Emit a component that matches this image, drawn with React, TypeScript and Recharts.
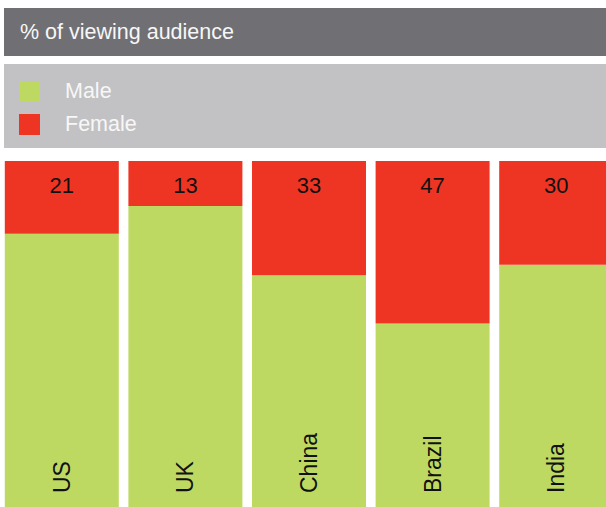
import React from "react";
import { BarChart, Bar, XAxis, YAxis, Legend, LabelList } from "recharts";

const countries = ["US", "UK", "China", "Brazil", "India"];
const femaleShare = [21, 13, 33, 47, 30];
const maleShare = [79, 87, 67, 53, 70];

const GREEN = "#bed962";
const RED = "#ee3524";
const FONT = "'Liberation Sans', Arial, sans-serif";

const data = countries.map((c, i) => ({
  country: c,
  male: maleShare[i],
  female: femaleShare[i],
}));

const LegendBox = () => (
  <div
    style={{
      width: 602,
      height: 84,
      background: "#c2c2c4",
      position: "relative",
      fontFamily: FONT,
      fontSize: 21.5,
      color: "#f7f7f7",
    }}
  >
    {[
      { name: "Male", color: GREEN, top: 15 },
      { name: "Female", color: RED, top: 48 },
    ].map((it) => (
      <div key={it.name} style={{ position: "absolute", left: 15, top: it.top, display: "flex", alignItems: "center" }}>
        <div style={{ width: 21, height: 21, background: it.color }} />
        <span style={{ marginLeft: 25 }}>{it.name}</span>
      </div>
    ))}
  </div>
);

const CountryLabel = (props: any) => {
  const { x, width, value } = props;
  const cx = x + width / 2 + 8;
  const y = 493;
  return (
    <text
      x={cx}
      y={y}
      transform={`rotate(-90 ${cx} ${y})`}
      textAnchor="start"
      fontSize={23}
      fontFamily={FONT}
      fill="#111"
    >
      {value}
    </text>
  );
};

export default function App() {
  return (
    <div style={{ position: "fixed", left: 0, top: 0, width: 606, height: 507, overflow: "hidden", background: "#fff" }}>
      <div
        style={{
          position: "absolute",
          left: 4,
          top: 8,
          width: 602,
          height: 48,
          background: "#707074",
          color: "#f7f7f7",
          fontFamily: FONT,
          fontSize: 21.5,
          lineHeight: "48px",
          paddingLeft: 16,
          boxSizing: "border-box",
        }}
      >
        % of viewing audience
      </div>
      <BarChart
        width={618}
        height={507}
        data={data}
        margin={{ top: 77, right: 0, bottom: 0, left: 0 }}
        barCategoryGap={4.8}
      >
        <XAxis dataKey="country" hide />
        <YAxis hide domain={[0, 100]} />
        <Legend
          verticalAlign="top"
          content={<LegendBox />}
          wrapperStyle={{ position: "absolute", top: 64, left: 4, width: 602, height: 84 }}
        />
        <Bar dataKey="male" stackId="a" fill={GREEN} isAnimationActive={false}>
          <LabelList dataKey="country" content={<CountryLabel />} />
        </Bar>
        <Bar dataKey="female" stackId="a" fill={RED} isAnimationActive={false}>
          <LabelList
            dataKey="female"
            position="insideTop"
            offset={16}
            fontSize={22}
            fontFamily={FONT}
            fill="#111"
          />
        </Bar>
      </BarChart>
    </div>
  );
}
